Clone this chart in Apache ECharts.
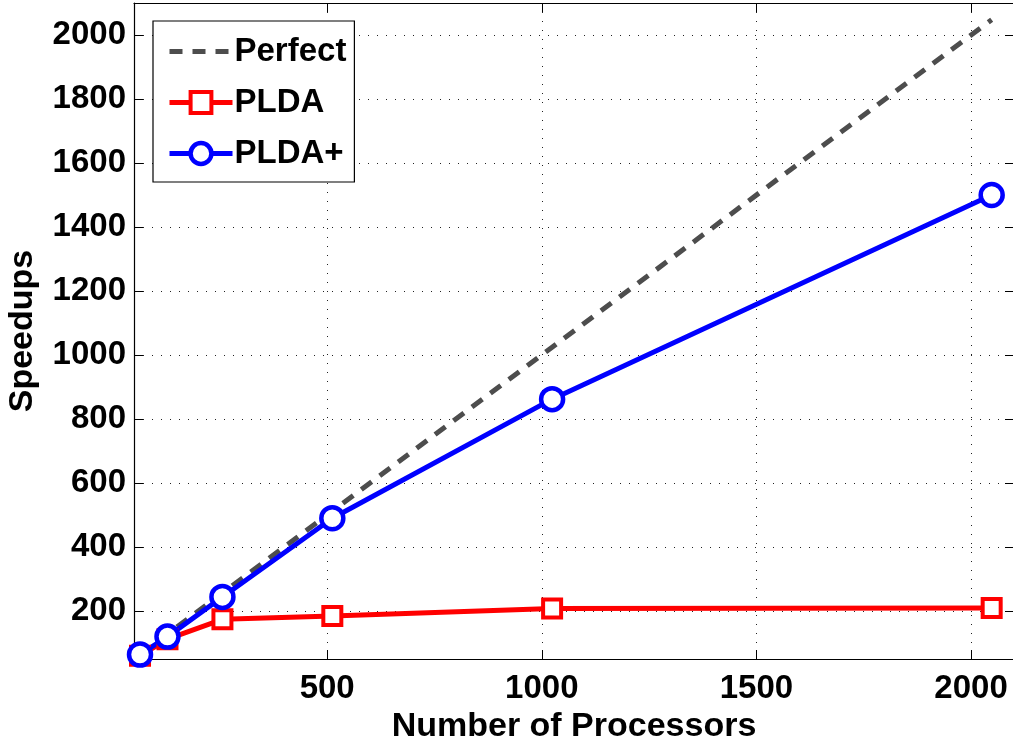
<!DOCTYPE html>
<html>
<head>
<meta charset="utf-8">
<script src="https://cdn.jsdelivr.net/npm/echarts@6/dist/echarts.min.js"></script>
<style>
  html, body { margin: 0; padding: 0; background: #fff; }
  #chart { width: 1013px; height: 740px; }
</style>
</head>
<body>
<div id="chart"></div>
<script>
// processors on x, speedup on y
const processors = [64, 128, 256, 512, 1024, 2048];
const perfect = [64, 128, 256, 512, 1024, 2048];
const plda = [60, 112, 174, 184, 208, 209];
const pldaPlus = [64, 120, 244, 490, 862, 1500];

const xTicks = [500, 1000, 1500, 2000];
const yTicks = [200, 400, 600, 800, 1000, 1200, 1400, 1600, 1800, 2000];

const font = 'Liberation Sans, Arial, sans-serif';

function pairs(ys) {
  return processors.map((x, i) => [x, ys[i]]);
}

const chart = echarts.init(document.getElementById('chart'));

const gridLine = {
  show: true,
  lineStyle: { color: '#222', width: 1, type: [1, 8] }
};
const boxLine = { show: true, onZero: false, lineStyle: { color: '#000', width: 1.2 } };

const option = {
  backgroundColor: '#fff',
  animation: false,
  grid: { left: 134, top: 3, right: -1, bottom: 81, outerBoundsMode: 'none', containLabel: false },
  legend: {
    orient: 'vertical',
    left: 153,
    top: 21,
    backgroundColor: '#fff',
    borderColor: '#000',
    borderWidth: 1.2,
    padding: [14, 8, 12, 14],
    itemWidth: 63,
    itemHeight: 26,
    itemGap: 18,
    lineStyle: { width: 'inherit' },
    itemStyle: { borderWidth: 'inherit' },
    textStyle: { fontFamily: font, fontWeight: 'bold', fontSize: 33, color: '#000', padding: [0, 0, 0, -3] },
    data: ['Perfect', 'PLDA', 'PLDA+']
  },
  xAxis: [{
    type: 'value',
    min: 50,
    max: 2100,
    name: 'Number of Processors',
    nameLocation: 'middle',
    nameGap: 49,
    nameTextStyle: { fontFamily: font, fontWeight: 'bold', fontSize: 34, color: '#000' },
    axisLine: boxLine,
    axisTick: { show: true, inside: true, length: 9, customValues: xTicks, lineStyle: { color: '#000' } },
    axisLabel: {
      customValues: xTicks, margin: 13, formatter: v => String(v),
      fontFamily: font, fontWeight: 'bold', fontSize: 33, color: '#000'
    },
    splitLine: gridLine
  }, {
    type: 'value',
    position: 'top',
    min: 50,
    max: 2100,
    axisLine: boxLine,
    axisTick: { show: true, inside: true, length: 9, customValues: xTicks, lineStyle: { color: '#000' } },
    axisLabel: { show: false },
    splitLine: { show: false }
  }],
  yAxis: [{
    type: 'value',
    min: 50,
    max: 2100,
    name: 'Speedups',
    nameLocation: 'middle',
    nameGap: 94,
    nameTextStyle: { fontFamily: font, fontWeight: 'bold', fontSize: 34, color: '#000' },
    axisLine: boxLine,
    axisTick: { show: true, inside: true, length: 9, customValues: yTicks, lineStyle: { color: '#000' } },
    axisLabel: {
      customValues: yTicks, margin: 8, formatter: v => String(v),
      fontFamily: font, fontWeight: 'bold', fontSize: 33, color: '#000'
    },
    splitLine: gridLine
  }, {
    type: 'value',
    position: 'right',
    min: 50,
    max: 2100,
    axisLine: boxLine,
    axisTick: { show: true, inside: true, length: 9, customValues: yTicks, lineStyle: { color: '#000' } },
    axisLabel: { show: false },
    splitLine: { show: false }
  }],
  series: [{
    name: 'Perfect',
    type: 'line',
    data: pairs(perfect),
    showSymbol: false,
    symbol: 'none',
    lineStyle: { color: '#4d4d4d', width: 5, type: [13, 10] },
    itemStyle: { color: 'rgba(0,0,0,0)', borderWidth: 0 }
  }, {
    name: 'PLDA',
    type: 'line',
    data: pairs(plda),
    symbol: 'rect',
    symbolSize: 18,
    lineStyle: { color: '#ff0000', width: 5 },
    itemStyle: { color: '#fff', borderColor: '#ff0000', borderWidth: 4 }
  }, {
    name: 'PLDA+',
    type: 'line',
    data: pairs(pldaPlus),
    symbol: 'circle',
    symbolSize: 22,
    lineStyle: { color: '#0000ff', width: 5 },
    itemStyle: { color: '#fff', borderColor: '#0000ff', borderWidth: 4.5 }
  }]
};

chart.setOption(option);
</script>
</body>
</html>
